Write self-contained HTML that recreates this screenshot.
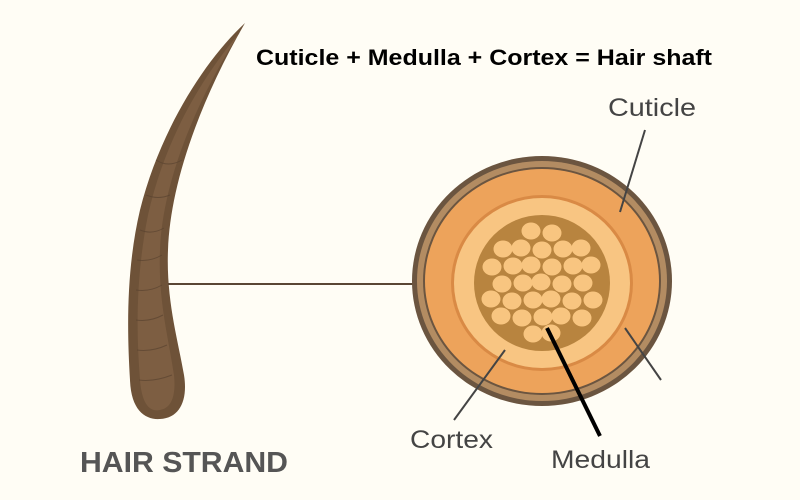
<!DOCTYPE html>
<html><head><meta charset="utf-8"><style>
html,body{margin:0;padding:0;background:#fffdf5;}
svg{display:block}
text{font-family:"Liberation Sans",sans-serif}
</style></head><body>
<svg id="s" width="800" height="500" viewBox="0 0 800 500" xmlns="http://www.w3.org/2000/svg">
<rect width="800" height="500" fill="#fffdf5"/>
<!-- hair strand -->
<path d="M245,23 C205,60 160,130 140,210 C126,270 127,330 130,380 C131,410 145,420 160,419 C180,418 188,400 184,375 C178,340 166,300 168,250 C170,190 195,110 245,23 Z" fill="#6e5238"/>
<path d="M240,32 C200,80 165,140 148,215 C136,275 136,330 140,380 C142,405 150,412 160,410 C172,408 176,395 174,375 C168,335 158,300 160,250 C162,190 190,110 240,32 Z" fill="#7d5e42"/>
<g stroke="#5a4330" stroke-width="1" fill="none" opacity="0.7">
<path d="M156,160 Q168,168 182,160"/><path d="M146,195 Q158,200 170,195"/><path d="M140,230 Q152,235 164,228"/><path d="M137,260 Q150,262 162,255"/><path d="M136,290 Q150,292 162,285"/><path d="M136,320 Q150,322 163,315"/><path d="M137,350 Q152,352 167,345"/><path d="M139,380 Q154,382 172,375"/>
</g>
<!-- connector from hair -->
<line x1="168" y1="284" x2="415" y2="284" stroke="#5a4634" stroke-width="2"/>
<!-- cross section -->
<ellipse cx="542" cy="281" rx="130" ry="125" fill="#6b5540"/>
<ellipse cx="542" cy="281" rx="125" ry="120" fill="#b38c62"/>
<ellipse cx="542" cy="281" rx="119" ry="114" fill="#6b5540"/>
<ellipse cx="542" cy="281" rx="117" ry="112" fill="#eda35b"/>
<ellipse cx="542" cy="283" rx="91" ry="88" fill="#d98a45"/>
<ellipse cx="542" cy="283" rx="88" ry="85" fill="#f8c582"/>
<circle cx="542" cy="283" r="68" fill="#b8843f"/>
<g id="cells" fill="#f8c580"></g>
<!-- leader lines -->
<line x1="645" y1="130" x2="620" y2="212" stroke="#444" stroke-width="2"/>
<line x1="625" y1="328" x2="661" y2="380" stroke="#444" stroke-width="2"/>
<line x1="505" y1="350" x2="454" y2="420" stroke="#444" stroke-width="2"/>
<line x1="547" y1="328" x2="600" y2="436" stroke="#000" stroke-width="4"/>
<!-- text -->
<text x="256" y="65" font-size="22" font-weight="bold" fill="#000" textLength="456" lengthAdjust="spacingAndGlyphs">Cuticle + Medulla + Cortex = Hair shaft</text>
<text x="608" y="116" font-size="25" fill="#444" textLength="88" lengthAdjust="spacingAndGlyphs">Cuticle</text>
<text x="410" y="448" font-size="25" fill="#444" textLength="83" lengthAdjust="spacingAndGlyphs">Cortex</text>
<text x="551" y="468" font-size="25" fill="#444" textLength="99" lengthAdjust="spacingAndGlyphs">Medulla</text>
<text x="80" y="472" font-size="29" font-weight="bold" fill="#555" textLength="208" lengthAdjust="spacingAndGlyphs">HAIR STRAND</text>
</svg>
<script>
var g=document.getElementById('cells'),cx=542,cy=283,n=0;
for(var r=-3;r<=3;r++){var dy=r*17;var off=(r%2)?10:0;
for(var k=-4;k<=4;k++){var dx=k*20+off;if(Math.sqrt(dx*dx+dy*dy)<=57){
var e=document.createElementNS('http://www.w3.org/2000/svg','ellipse');
e.setAttribute('cx',cx+dx+((n*7)%3-1));e.setAttribute('cy',cy+dy+((n*5)%3-1));
e.setAttribute('rx',9.5);e.setAttribute('ry',8.5);g.appendChild(e);n++;}}}
</script>
</body></html>
